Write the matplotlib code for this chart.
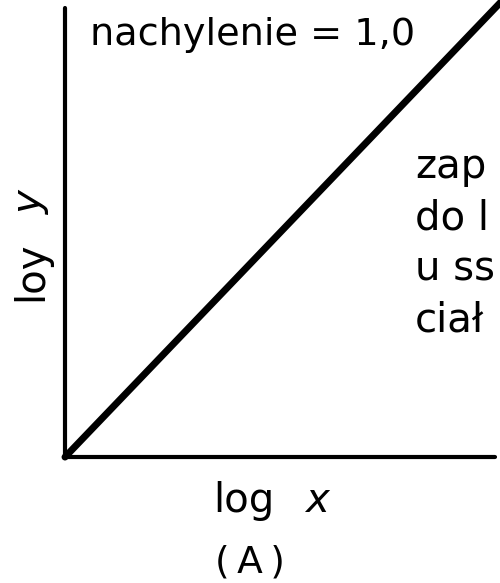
import matplotlib.pyplot as plt

plt.rcParams['font.family'] = ['DejaVu Sans']

W, H = 500, 583

# log-log plot of y against x, straight line with slope 1
slope = 1.0
log_x = [0.0, 1.05]
log_y = [slope * v for v in log_x]

side_lines = ['zap', 'do l', 'u ss', 'ciał']


def px(x, y):
    # pixel position (from top-left) -> figure fraction
    return x / W, 1 - y / H


fig = plt.figure(figsize=(W / 100, H / 100), dpi=100)
ax = fig.add_axes([0.13, 0.216, 0.86, 0.770])

ax.plot(log_x, log_y, color='black', lw=5, solid_capstyle='round', clip_on=False)

ax.set_xlim(0, 1)
ax.set_ylim(0, 1)
for s in ['top', 'right']:
    ax.spines[s].set_visible(False)
for s in ['left', 'bottom']:
    ax.spines[s].set_linewidth(3)
    ax.spines[s].set_capstyle('round')
ax.set_xticks([])
ax.set_yticks([])

fig.text(*px(90, 45), 'nachylenie = ' + f'{slope:.1f}'.replace('.', ','),
         fontsize=27.5, ha='left', va='baseline')

for i, t in enumerate(side_lines):
    fig.text(*px(415, 178 + 51 * i), t, fontsize=29, ha='left', va='baseline')

# x label
fig.text(*px(213, 512), 'log', fontsize=29, ha='left', va='baseline')
fig.text(*px(305, 512), 'x', fontsize=29, style='italic', ha='left', va='baseline')
fig.text(*px(250, 573), '(\u2009A\u2009)', fontsize=27, ha='center', va='baseline')

# y label, rotated
fig.text(*px(42, 271), 'loy', fontsize=29, ha='center', va='baseline',
         rotation=90, rotation_mode='anchor')
fig.text(*px(42, 202), 'y', fontsize=29, style='italic', ha='center', va='baseline',
         rotation=90, rotation_mode='anchor')

fig.savefig('out.png', dpi=100, facecolor='white')
